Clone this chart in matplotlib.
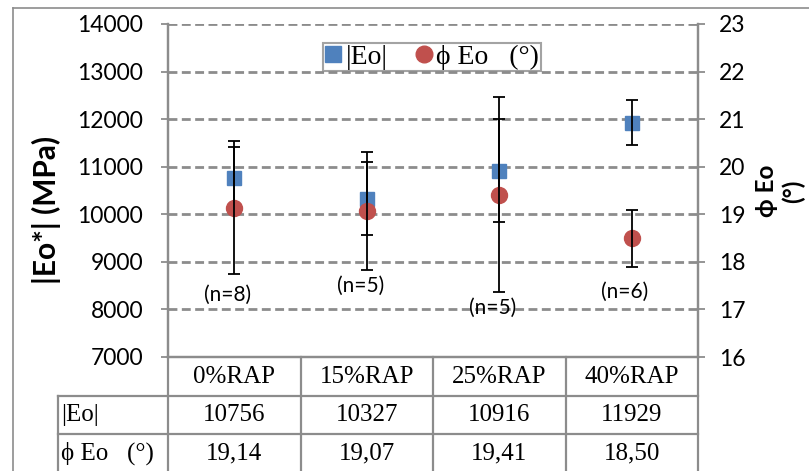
import numpy as np
import matplotlib
matplotlib.use("Agg")
import matplotlib.pyplot as plt
from matplotlib.lines import Line2D
from matplotlib.transforms import blended_transform_factory

# data
categories = ["0%RAP", "15%RAP", "25%RAP", "40%RAP"]
eo_values = [10756, 10327, 10916, 11929]
eo_err = [667, 767, 1088, 482]
phi_values = [19.14, 19.07, 19.41, 18.50]
phi_err = [1.40, 1.24, 2.05, 0.60]
phi_labels = ["19,14", "19,07", "19,41", "18,50"]
n_labels = ["(n=8)", "(n=5)", "(n=5)", "(n=6)"]
n_label_y = [8300, 8490, 8030, 8370]

GRAY = "#8c8c8c"
BLUE = "#4F81BD"
RED = "#C0504D"
SANS = ["Lato", "DejaVu Sans"]
SERIF = ["Liberation Serif", "DejaVu Serif"]

W, H = 809, 471
fig = plt.figure(figsize=(W / 100, H / 100), dpi=100)

# plot area in pixels: x 168..698, y 24..357
x0, x1, y0, y1 = 168, 698, 24, 357
ax = fig.add_axes([x0 / W, (H - y1) / H, (x1 - x0) / W, (y1 - y0) / H])
ax2 = ax.twinx()

x = np.arange(len(categories))

# grid lines (left axis)
for v in range(8000, 14001, 1000):
    ax.axhline(v, color=GRAY, lw=2.0, ls=(0, (3.2, 1.6)), zorder=1)

ax.plot(x, eo_values, ls="none", marker="s", ms=10.5, color=BLUE, zorder=3)
ax.errorbar(x, eo_values, yerr=eo_err, fmt="none", ecolor="black",
            elinewidth=1.3, capsize=4.3, capthick=1.3, zorder=4)

ax2.plot(x, phi_values, ls="none", marker="o", ms=11.5, color=RED, zorder=3)
ax2.errorbar(x, phi_values, yerr=phi_err, fmt="none", ecolor="black",
             elinewidth=1.3, capsize=4.3, capthick=1.3, zorder=4)

ax.set_xlim(-0.5, 3.5)
ax.set_ylim(7000, 14000)
ax2.set_ylim(16, 23)
ax.set_yticks(range(7000, 14001, 1000))
ax2.set_yticks(range(16, 24))
ax.set_xticks([])

for a in (ax, ax2):
    a.spines["top"].set_visible(False)
    for s in ("left", "right", "bottom"):
        a.spines[s].set_color(GRAY)
        a.spines[s].set_linewidth(1.6)
    a.tick_params(axis="y", direction="out", length=5, width=1.3, color=GRAY,
                  labelsize=16.5)
    for lab in a.get_yticklabels():
        lab.set_family(SANS)
ax.tick_params(axis="y", pad=13)
ax2.tick_params(axis="y", pad=10)

# sample counts
for i, (t, yv) in enumerate(zip(n_labels, n_label_y)):
    ax.text(i - 0.05, yv, t, ha="center", va="center", fontsize=15,
            family=SANS, zorder=5)

# axis titles
fig.text(46 / W, 1 - 210 / H, "|Eo*| (MPa)", rotation=90, ha="center",
         va="center", fontsize=21.5, fontweight="bold", family=SANS)
fig.text(780 / W, 1 - 191 / H, "ϕ Eo\n(°)", rotation=90, ha="center",
         va="center", fontsize=17.5, fontweight="bold", family=SANS,
         multialignment="center", linespacing=1.15)

# legend
handles = [Line2D([], [], ls="none", marker="s", ms=11, color=BLUE),
           Line2D([], [], ls="none", marker="o", ms=12, color=RED)]
leg = ax2.legend(handles, ["|Eo|", "ϕ Eo   (°)"], ncol=2, loc="center",
                 bbox_to_anchor=((432 - x0) / (x1 - x0), (y1 - 57) / (y1 - y0)),
                 prop={"family": SERIF, "size": 20}, frameon=True,
                 fancybox=False, handlelength=0.6, handletextpad=0.15,
                 columnspacing=1.0, borderpad=0.05, borderaxespad=0)
leg.get_frame().set_edgecolor(GRAY)
leg.get_frame().set_linewidth(1.5)
leg.set_zorder(10)

# data table below the plot
tr = blended_transform_factory(ax.transData, ax.transAxes)

def ay(py):
    return (y1 - py) / (y1 - y0)

row_lines = [396, 434]
label_left = -0.5 - (x0 - 58) / ((x1 - x0) / 4)
bottom = ay(480)
for py in row_lines:
    ax.add_line(Line2D([label_left, 3.5], [ay(py), ay(py)], transform=tr,
                       color=GRAY, lw=1.6, clip_on=False))
for bx in [0.5, 1.5, 2.5, 3.5]:
    ax.add_line(Line2D([bx, bx], [0, bottom], transform=tr, color=GRAY,
                       lw=1.6, clip_on=False))
ax.add_line(Line2D([-0.5, -0.5], [0, bottom], transform=tr, color=GRAY,
                   lw=1.6, clip_on=False))
ax.add_line(Line2D([label_left, label_left], [ay(396), bottom], transform=tr,
                   color=GRAY, lw=1.6, clip_on=False))

for i in range(len(categories)):
    ax.text(i, ay(377), categories[i], transform=tr, ha="center", va="center",
            fontsize=18, family=SERIF)
    ax.text(i, ay(415), str(eo_values[i]), transform=tr, ha="center",
            va="center", fontsize=18, family=SERIF)
    ax.text(i, ay(453), phi_labels[i], transform=tr, ha="center",
            va="center", fontsize=18, family=SERIF)
ax.text(label_left + 0.02, ay(415), "|Eo|", transform=tr, ha="left",
        va="center", fontsize=18, family=SERIF)
ax.text(label_left + 0.02, ay(453), "ϕ Eo   (°)", transform=tr, ha="left",
        va="center", fontsize=18, family=SERIF)

# outer chart border
fig.add_artist(Line2D([13 / W, 13 / W], [0, 1 - 8 / H], color=GRAY, lw=1.2,
                      transform=fig.transFigure))
fig.add_artist(Line2D([13 / W, 1], [1 - 8 / H, 1 - 8 / H], color=GRAY, lw=1.2,
                      transform=fig.transFigure))

fig.savefig("out.png", dpi=100)
